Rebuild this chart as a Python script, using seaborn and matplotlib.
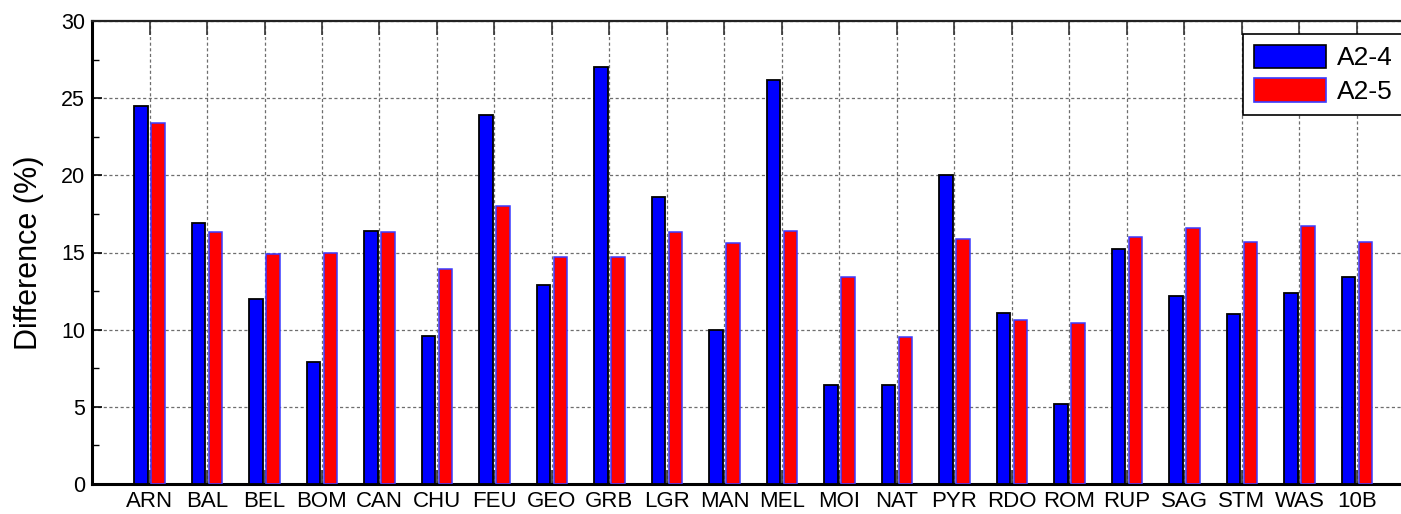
import matplotlib
matplotlib.use("Agg")
import matplotlib.pyplot as plt
from matplotlib.patches import Patch
from matplotlib.ticker import MultipleLocator
import numpy as np
import pandas as pd
import seaborn as sns

# Station codes along the x axis
stations = ["ARN", "BAL", "BEL", "BOM", "CAN", "CHU", "FEU", "GEO", "GRB", "LGR", "MAN",
            "MEL", "MOI", "NAT", "PYR", "RDO", "ROM", "RUP", "SAG", "STM", "WAS", "10B"]

# Difference (%) for each configuration
a2_4 = [24.5, 16.9, 12.0, 7.9, 16.4, 9.6, 23.9, 12.9, 27.0, 18.6, 10.0,
        26.2, 6.4, 6.4, 20.0, 11.1, 5.2, 15.2, 12.2, 11.0, 12.4, 13.4]
a2_5 = [23.4, 16.3, 14.9, 15.0, 16.3, 13.9, 18.0, 14.7, 14.7, 16.3, 15.6,
        16.4, 13.4, 9.5, 15.9, 10.6, 10.4, 16.0, 16.6, 15.7, 16.7, 15.7]

series_names = ["A2-4", "A2-5"]
y_ticks = [0, 5, 10, 15, 20, 25, 30]

df = pd.DataFrame({
    "station": stations * 2,
    "diff": a2_4 + a2_5,
    "series": [series_names[0]] * len(stations) + [series_names[1]] * len(stations),
})

sns.set_style("white")
plt.rcParams["font.family"] = ["Liberation Sans", "DejaVu Sans"]
plt.rcParams["text.color"] = "black"
plt.rcParams["axes.labelcolor"] = "black"
plt.rcParams["xtick.color"] = "black"
plt.rcParams["ytick.color"] = "black"

W, H = 1401, 514
fig = plt.figure(figsize=(W / 100, H / 100), dpi=100)
left, bottom, top = 92, 484, 21
unit = 57.5
ax = fig.add_axes([left / W, (H - bottom) / H, 23 * unit / W, (bottom - top) / H])

face = {"A2-4": "#0000ff", "A2-5": "#ff0000"}
edge = {"A2-4": "#000000", "A2-5": "#3a3aff"}

sns.barplot(data=df, x="station", y="diff", hue="series", order=stations,
            hue_order=series_names, palette=face, saturation=1,
            width=0.59, gap=0.2, ax=ax, legend=False, zorder=3)

for cont, name in zip(ax.containers, series_names):
    for bar in cont:
        bar.set_edgecolor(edge[name])
        bar.set_linewidth(1.3 if name == "A2-4" else 1.1)
        bar.set_zorder(3)

ax.set_xlim(-1, 22)
ax.set_ylim(0, 30)
ax.set_yticks(y_ticks)
ax.yaxis.set_minor_locator(MultipleLocator(2.5))

ax.grid(True, which="major", color="#6e6e6e", linestyle=(0, (2.5, 2)), linewidth=0.9, zorder=0)
ax.set_axisbelow(True)

ax.tick_params(axis="x", which="major", direction="in", length=10, width=1.2,
               color="#333333", labelcolor="black", labelsize=16, pad=5, top=True, bottom=True)
ax.tick_params(axis="y", which="major", direction="in", length=7, width=1.2,
               color="black", labelcolor="black", labelsize=15.5, pad=5, left=True, right=False)
ax.tick_params(axis="y", which="minor", direction="in", length=5, width=1,
               color="black", left=True, right=False)

for s in ["left", "bottom"]:
    ax.spines[s].set_linewidth(2.2)
    ax.spines[s].set_color("black")
ax.spines["top"].set_linewidth(1.6)
ax.spines["top"].set_color("#222222")
ax.spines["right"].set_visible(False)

ax.set_xlabel("")
ax.set_ylabel("Difference (%)", fontsize=22, labelpad=12, color="black")

handles = [Patch(facecolor=face[n], edgecolor=edge[n], linewidth=1.2) for n in series_names]
leg = fig.legend(handles, series_names, loc="upper left",
                 bbox_to_anchor=(1243 / W, (H - 34) / H), bbox_transform=fig.transFigure,
                 borderaxespad=0, fontsize=19, frameon=True, fancybox=False, framealpha=1,
                 edgecolor="black", handlelength=2.75, handleheight=1.0,
                 handletextpad=0.4, labelspacing=0.3, borderpad=0.4)
leg.get_frame().set_linewidth(1.2)
for t in leg.get_texts():
    t.set_color("black")

fig.savefig("out.png", dpi=100)
